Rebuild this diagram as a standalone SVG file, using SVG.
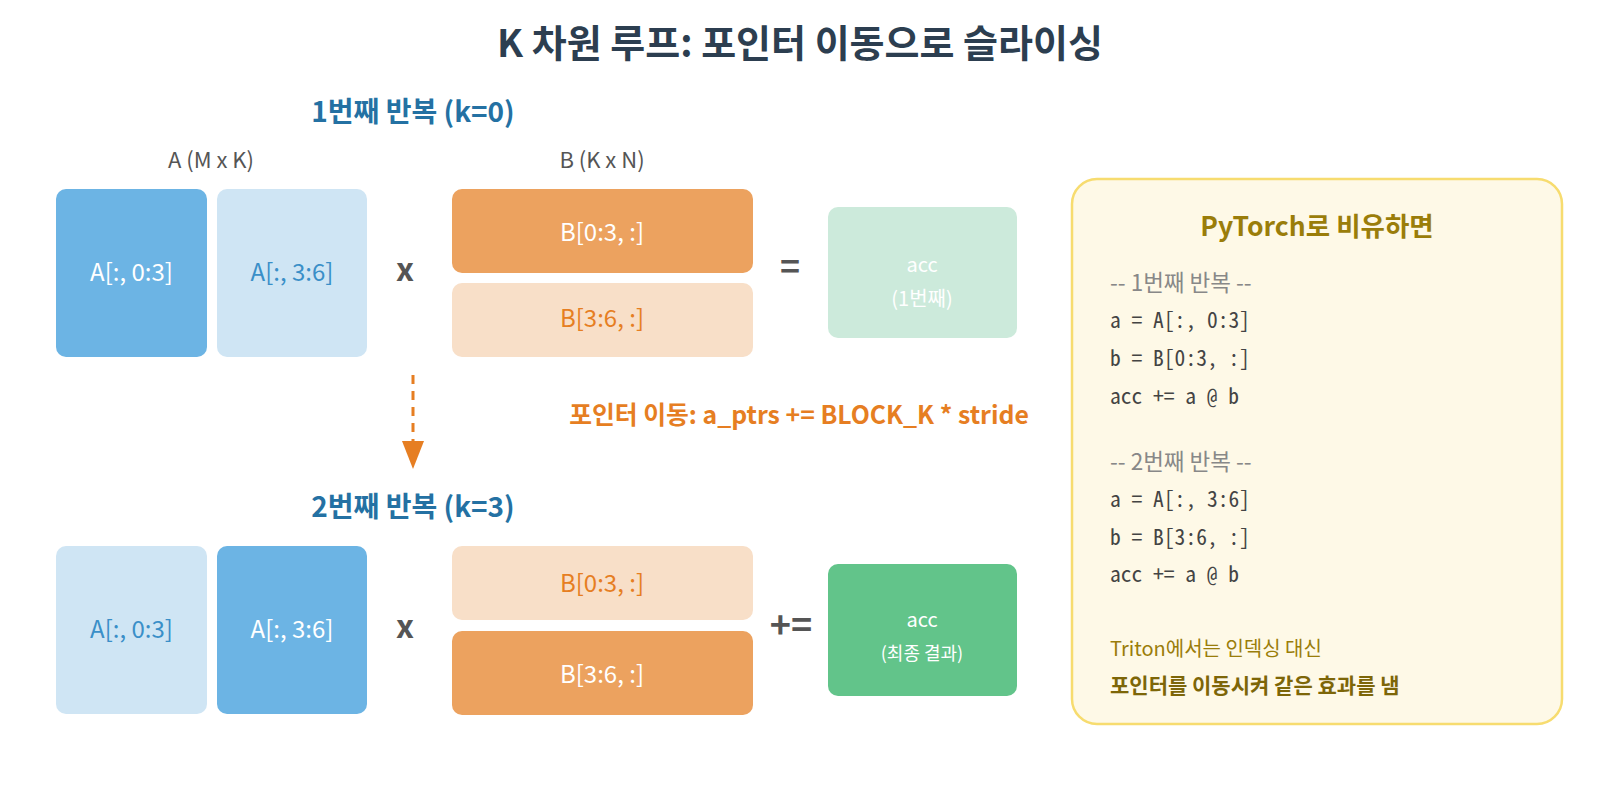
<svg xmlns="http://www.w3.org/2000/svg" width="1600" height="791" viewBox="0 0 1600 791">
<defs>
<style>
text{font-family:"Noto Sans CJK KR","Noto Sans",sans-serif;}
.title{font-size:38px;font-weight:700;fill:#2c3e50;text-anchor:middle;}
.hdr{font-size:28px;font-weight:700;fill:#2471a3;text-anchor:middle;}
.cap{font-size:22px;fill:#555;text-anchor:middle;}
.lbl{font-size:24px;text-anchor:middle;}
.w{fill:#ffffff;}
.bl{fill:#3a8fc8;}
.or{fill:#e67e22;}
.op{font-size:34px;font-weight:700;fill:#555;text-anchor:middle;}
.small{font-size:20px;text-anchor:middle;fill:#ffffff;}
.code{font-family:"Noto Sans Mono CJK KR","DejaVu Sans Mono","Liberation Mono",monospace;font-size:22px;fill:#444;}
.cmt{font-size:22.5px;fill:#888;}
</style>
</defs>
<rect width="1600" height="791" fill="#ffffff"/>
<text class="title" x="800" y="57">K 차원 루프: 포인터 이동으로 슬라이싱</text>

<g id="iter1">
<text class="hdr" x="413" y="122">1번째 반복 (k=0)</text>
<text class="cap" x="211" y="168">A (M x K)</text>
<text class="cap" x="602" y="168">B (K x N)</text>
<g id="a1-0"><rect x="56" y="189" width="151" height="168" rx="10" fill="#6cb4e4"/><text class="lbl w" x="131.5" y="281">A[:, 0:3]</text></g>
<g id="a1-1"><rect x="217" y="189" width="150" height="168" rx="10" fill="#cfe5f4"/><text class="lbl bl" x="292" y="281">A[:, 3:6]</text></g>
<g id="x1"><text class="op" x="405" y="281" style="font-size:32px">x</text></g>
<g id="b1-0"><rect x="452" y="189" width="301" height="84" rx="10" fill="#eca25f"/><text class="lbl w" x="602" y="241">B[0:3, :]</text></g>
<g id="b1-1"><rect x="452" y="283" width="301" height="74" rx="10" fill="#f8dfc8"/><text class="lbl or" x="602" y="327">B[3:6, :]</text></g>
<g id="eq1"><text class="op" x="790" y="279">=</text></g>
<g id="acc1"><rect x="828" y="207" width="189" height="131" rx="10" fill="#cceadb"/><text class="small" x="922" y="272">acc</text><text class="small" x="922" y="306">(1번째)</text></g>
</g>

<g id="connectors">
<line x1="413" y1="375" x2="413" y2="441" stroke="#e67e22" stroke-width="3" stroke-dasharray="9,7"/>
<polygon points="402,441 424,441 413,469" fill="#e67e22"/>
</g>
<text x="799" y="424" style="font-size:24.8px;font-weight:700;fill:#e67e22;text-anchor:middle">포인터 이동: a_ptrs += BLOCK_K * stride</text>

<g id="iter2">
<text class="hdr" x="413" y="517">2번째 반복 (k=3)</text>
<g id="a2-0"><rect x="56" y="546" width="151" height="168" rx="10" fill="#cfe5f4"/><text class="lbl bl" x="131.5" y="638">A[:, 0:3]</text></g>
<g id="a2-1"><rect x="217" y="546" width="150" height="168" rx="10" fill="#6cb4e4"/><text class="lbl w" x="292" y="638">A[:, 3:6]</text></g>
<g id="x2"><text class="op" x="405" y="638" style="font-size:32px">x</text></g>
<g id="b2-0"><rect x="452" y="546" width="301" height="74" rx="10" fill="#f8dfc8"/><text class="lbl or" x="602" y="592">B[0:3, :]</text></g>
<g id="b2-1"><rect x="452" y="631" width="301" height="84" rx="10" fill="#eca25f"/><text class="lbl w" x="602" y="683">B[3:6, :]</text></g>
<g id="eq2"><text class="op" x="791" y="638" style="font-size:36px">+=</text></g>
<g id="acc2"><rect x="828" y="564" width="189" height="132" rx="10" fill="#62c48a"/><text class="small" x="922" y="627">acc</text><text class="small" x="922" y="660" style="font-size:18px">(최종 결과)</text></g>
</g>

<g id="pytorch-panel">
<rect x="1072" y="179" width="490" height="545" rx="25" fill="#fef9e7" stroke="#f7dc6f" stroke-width="2.5"/>
<text x="1317" y="236" style="font-size:26.5px;font-weight:700;fill:#9a7d0a;text-anchor:middle">PyTorch로 비유하면</text>
<text class="cmt" x="1110" y="291">-- 1번째 반복 --</text>
<text class="code" x="1110" y="328" textLength="140" lengthAdjust="spacingAndGlyphs">a = A[:, 0:3]</text>
<text class="code" x="1110" y="366" textLength="140" lengthAdjust="spacingAndGlyphs">b = B[0:3, :]</text>
<text class="code" x="1110" y="404" textLength="129" lengthAdjust="spacingAndGlyphs">acc += a @ b</text>
<text class="cmt" x="1110" y="470">-- 2번째 반복 --</text>
<text class="code" x="1110" y="507" textLength="140" lengthAdjust="spacingAndGlyphs">a = A[:, 3:6]</text>
<text class="code" x="1110" y="545" textLength="140" lengthAdjust="spacingAndGlyphs">b = B[3:6, :]</text>
<text class="code" x="1110" y="582" textLength="129" lengthAdjust="spacingAndGlyphs">acc += a @ b</text>
<text x="1110" y="656" style="font-size:20px;fill:#9a7d0a">Triton에서는 인덱싱 대신</text>
<text x="1110" y="693" style="font-size:21px;font-weight:700;fill:#7d6608">포인터를 이동시켜 같은 효과를 냄</text>
</g>
</svg>
